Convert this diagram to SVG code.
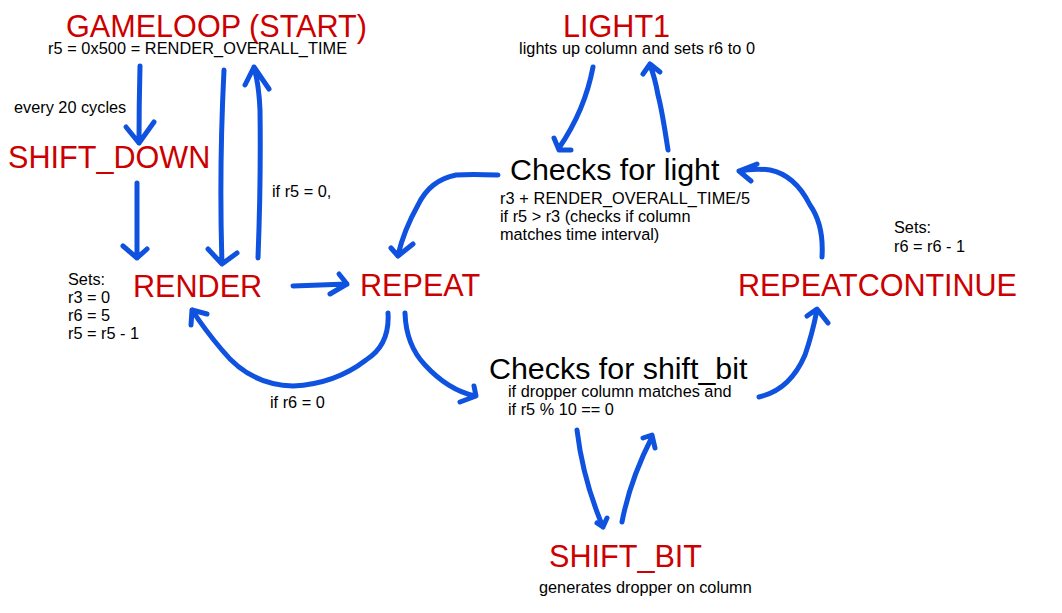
<svg xmlns="http://www.w3.org/2000/svg" width="1062" height="613" viewBox="0 0 1062 613">
<style>
.t{font-family:"Liberation Sans",Arial,sans-serif;fill:#cc0000;font-size:30.6px}
.h{font-family:"Liberation Sans",Arial,sans-serif;fill:#000;font-size:30.4px}
.s{font-family:"Liberation Sans",Arial,sans-serif;fill:#000;font-size:16.3px}
.c{fill:none;stroke:#0f52e0;stroke-width:5;stroke-linecap:round;stroke-linejoin:round}
</style>
<rect width="1062" height="613" fill="#fff"/>
<g id="gameloop">
<text class="t" x="66" y="37">GAMELOOP (START)</text>
<text class="s" x="48" y="54" textLength="299">r5 = 0x500 = RENDER_OVERALL_TIME</text>
</g>
<g id="shift_down">
<text class="t" x="8" y="168">SHIFT_DOWN</text>
</g>
<g id="render">
<text class="t" x="133" y="297">RENDER</text>
<text class="s" x="68" y="285">Sets:</text>
<text class="s" x="68" y="303">r3 = 0</text>
<text class="s" x="68" y="321">r6 = 5</text>
<text class="s" x="68" y="339">r5 = r5 - 1</text>
</g>
<g id="repeat">
<text class="t" x="360" y="296">REPEAT</text>
</g>
<g id="light1">
<text class="t" x="563" y="37">LIGHT1</text>
<text class="s" x="519" y="54" textLength="236">lights up column and sets r6 to 0</text>
</g>
<g id="checks_light">
<text class="h" x="510" y="180">Checks for light</text>
<text class="s" x="500" y="204" textLength="250">r3 + RENDER_OVERALL_TIME/5</text>
<text class="s" x="500" y="222">if r5 &gt; r3 (checks if column</text>
<text class="s" x="500" y="240">matches time interval)</text>
</g>
<g id="repeatcontinue">
<text class="t" x="738" y="296" textLength="279">REPEATCONTINUE</text>
<text class="s" x="894" y="233">Sets:</text>
<text class="s" x="894" y="252">r6 = r6 - 1</text>
</g>
<g id="checks_shift">
<text class="h" x="489" y="379">Checks for shift_bit</text>
<text class="s" x="508" y="397">if dropper column matches and</text>
<text class="s" x="508" y="415">if r5 % 10 == 0</text>
</g>
<g id="shift_bit">
<text class="t" x="549" y="567">SHIFT_BIT</text>
<text class="s" x="539" y="593">generates dropper on column</text>
</g>
<g id="labels">
<text class="s" x="14" y="113">every 20 cycles</text>
<text class="s" x="272" y="197">if r5 = 0,</text>
<text class="s" x="270" y="408">if r6 = 0</text>
</g>
<g id="connectors">
<path class="c" d="M140 66 Q139 105 139 143 M126 127 L139 143 L154 122"/>
<path class="c" d="M137 183 L137 258 M123 246 L137 258 L147 249"/>
<path class="c" d="M224 70 Q219 170 222 264 M208 249 L222 264 L237 253"/>
<path class="c" d="M258 258 Q261 180 260 110 Q259 85 254 67 M245 85 L254 67 L269 89"/>
<path class="c" d="M293 286 L347 284 M339 274 L347 284 L330 294"/>
<path class="c" d="M388 313 Q390 345 366 360 Q335 384 293 386 Q250 385 222 350 Q205 330 192 310 M191 325 L192 310 L207 314"/>
<path class="c" d="M405 313 Q406 345 425 365 Q448 390 475 396 M460 402 L476 396 L474 386"/>
<path class="c" d="M498 175 Q470 174 456 175 Q430 180 418 205 Q404 230 398 255 M391 248 L398 256 L413 244"/>
<path class="c" d="M593 67 Q585 110 559 148 M554 138 L559 150 L571 150"/>
<path class="c" d="M668 150 Q662 110 658 95 Q655 78 650 65 M643 74 L650 64 L660 72"/>
<path class="c" d="M822 257 Q824 225 810 205 Q795 175 770 170 Q755 168 739 171 M757 164 L739 171 L751 181"/>
<path class="c" d="M759 397 Q790 390 805 355 Q812 335 817 310 M807 316 L817 309 L828 323"/>
<path class="c" d="M577 430 Q583 480 603 527 M597 523 L603 527 L607 518"/>
<path class="c" d="M622 522 Q630 480 652 437 M643 438 L652 435 L655 448"/>
</g>
</svg>
